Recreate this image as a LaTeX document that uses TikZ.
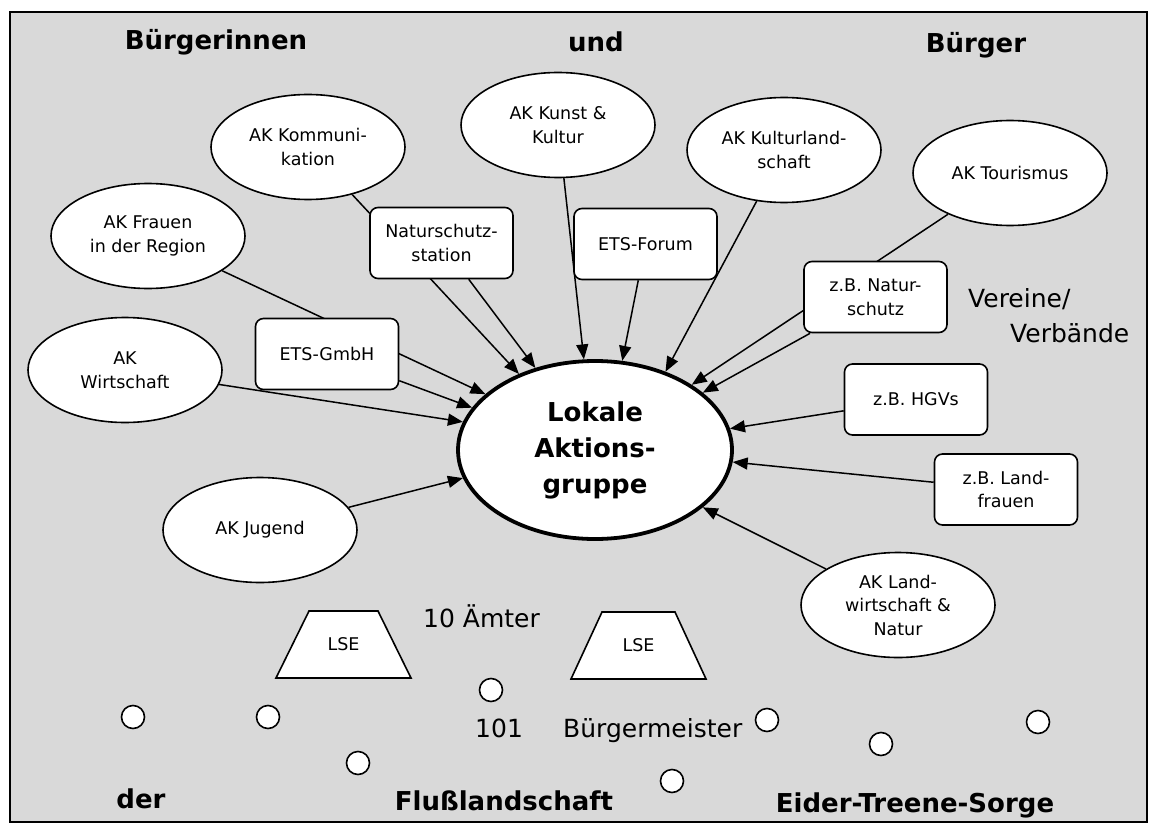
\documentclass[tikz,border=0pt]{standalone}
\usepackage{fontspec}
\setmainfont{DejaVu Sans}
\usetikzlibrary{shapes.geometric,arrows.meta}
\pgfdeclarelayer{bg}
\pgfsetlayers{bg,main}
\newcommand\fsnorm{\fontsize{17.5pt}{23.5pt}\selectfont}
\newcommand\fsbig{\fontsize{25pt}{33pt}\selectfont}
\newcommand\fstitle{\fontsize{26pt}{30pt}\selectfont\bfseries}
\newcommand\fslag{\fontsize{26pt}{36pt}\selectfont\bfseries}
\begin{document}
\begin{tikzpicture}[x=1pt,y=-1pt,
  akell/.style={ellipse, draw, fill=white, line width=1.6pt, minimum width=194pt, minimum height=105pt, inner sep=0pt, align=center, font=\fsnorm},
  lagell/.style={ellipse, draw, fill=white, line width=3.8pt, minimum width=274pt, minimum height=178pt, inner sep=0pt, align=center, font=\fslag},
  kbox/.style={rectangle, rounded corners=8pt, draw, fill=white, line width=1.6pt, minimum width=143pt, minimum height=71pt, inner sep=0pt, align=center, font=\fsnorm},
  trapfill/.style={draw, fill=white, line width=1.6pt, line join=miter},
  lsetxt/.style={font=\fsnorm, inner sep=0pt},
  dot/.style={circle, draw, fill=white, line width=1.6pt, minimum size=23pt, inner sep=0pt},
  arr/.style={line width=1.5pt, -{Triangle[length=15pt,width=12pt]}},
  title/.style={anchor=base, font=\fstitle, inner sep=0pt},
  lbl/.style={anchor=base west, font=\fsbig, inner sep=0pt}
]
\useasboundingbox (0,0) rectangle (1155,829);
\begin{pgfonlayer}{bg}
\fill[white] (0,0) rectangle (1155,829);
\filldraw[fill=black!15, draw=black, line width=1.2pt] (10,12) rectangle (1147,822);
\end{pgfonlayer}

% titles
\node[title] (t1) at (216,50) {Bürgerinnen};
\node[title] (t2) at (596,52) {und};
\node[title] (t3) at (976,53) {Bürger};
\node[title] (t4) at (141,808) {der};
\node[title] (t5) at (504,810) {Flußlandschaft};
\node[title] (t6) at (915,812) {Eider-Treene-Sorge};

% ellipses
\node[akell] (frauen) at (148,236) {AK Frauen\\in der Region};
\node[akell] (kom) at (308,147) {AK Kommuni-\\kation};
\node[akell] (kunst) at (558,125) {AK Kunst \&\\Kultur};
\node[akell] (kland) at (784,150) {AK Kulturland-\\schaft};
\node[akell] (tour) at (1010,173) {AK Tourismus};
\node[akell] (wirt) at (125,370) {AK\\Wirtschaft};
\node[akell] (jug) at (260,530) {AK Jugend};
\node[akell] (lwn) at (898,605) {AK Land-\\wirtschaft \&\\Natur};
\node[lagell] (lag) at (595,450) {Lokale\\Aktions-\\gruppe};

% boxes
\node[kbox] (nat) at (441.5,243) {Naturschutz-\\station};
\node[kbox] (forum) at (645.5,244) {ETS-Forum};
\node[kbox] (gmbh) at (327,354) {ETS-GmbH};
\node[kbox] (zbn) at (875.5,297) {z.B. Natur-\\schutz};
\node[kbox] (hgv) at (916,399.5) {z.B. HGVs};
\node[kbox] (lfr) at (1006,489.5) {z.B. Land-\\frauen};

% labels
\node[lbl] (v1) at (968,307) {Vereine/};
\node[lbl] (v2) at (1010,342) {Verbände};
\node[lbl] (amt) at (423,627) {10 Ämter};
\node[lbl] (n101) at (475,737) {101};
\node[lbl] (bgm) at (563,737) {Bürgermeister};

% LSE trapezia
\coordinate (lse1) at (343.5,644.5);
\coordinate (lse2) at (638.5,645.5);
\draw[trapfill] (lse1) ++(-67.5,33.5) -- ++(135,0) -- ++(-33,-67) -- ++(-69,0) -- cycle;
\draw[trapfill] (lse2) ++(-67.5,33.5) -- ++(135,0) -- ++(-31,-67) -- ++(-73,0) -- cycle;
\node[lsetxt] (lse1t) at (lse1) {LSE};
\node[lsetxt] (lse2t) at (lse2) {LSE};

% small circles
\node[dot] (c1) at (133,717) {};
\node[dot] (c2) at (268,717) {};
\node[dot] (c3) at (358,763) {};
\node[dot] (c4) at (491,690) {};
\node[dot] (c5) at (767,720) {};
\node[dot] (c6) at (672,781) {};
\node[dot] (c7) at (881,744) {};
\node[dot] (c8) at (1038,722) {};

% connectors
\begin{pgfonlayer}{bg}
\draw[arr] (kom) -- (lag.135.7);
\draw[arr] (nat) -- (lag.126.5);
\draw[arr] (kunst) -- (lag.97.4);
\draw[arr] (forum) -- (lag.73.3);
\draw[arr] (kland) -- (lag.48.7);
\draw[arr] (tour) -- (lag.34.8);
\draw[arr] (zbn) -- (lag.28.2);
\draw[arr] (hgv) -- (lag.9.5);
\draw[arr] (lfr) -- (lag.-5.4);
\draw[arr] (lwn) -- (lag.-28.8);
\draw[arr] (jug) -- (lag.192);
\draw[arr] (wirt) -- (lag.168.5);
\draw[arr] (gmbh) -- (lag.161.8);
\draw[arr] (frauen) -- (lag.153);
\end{pgfonlayer}
\end{tikzpicture}
\end{document}
